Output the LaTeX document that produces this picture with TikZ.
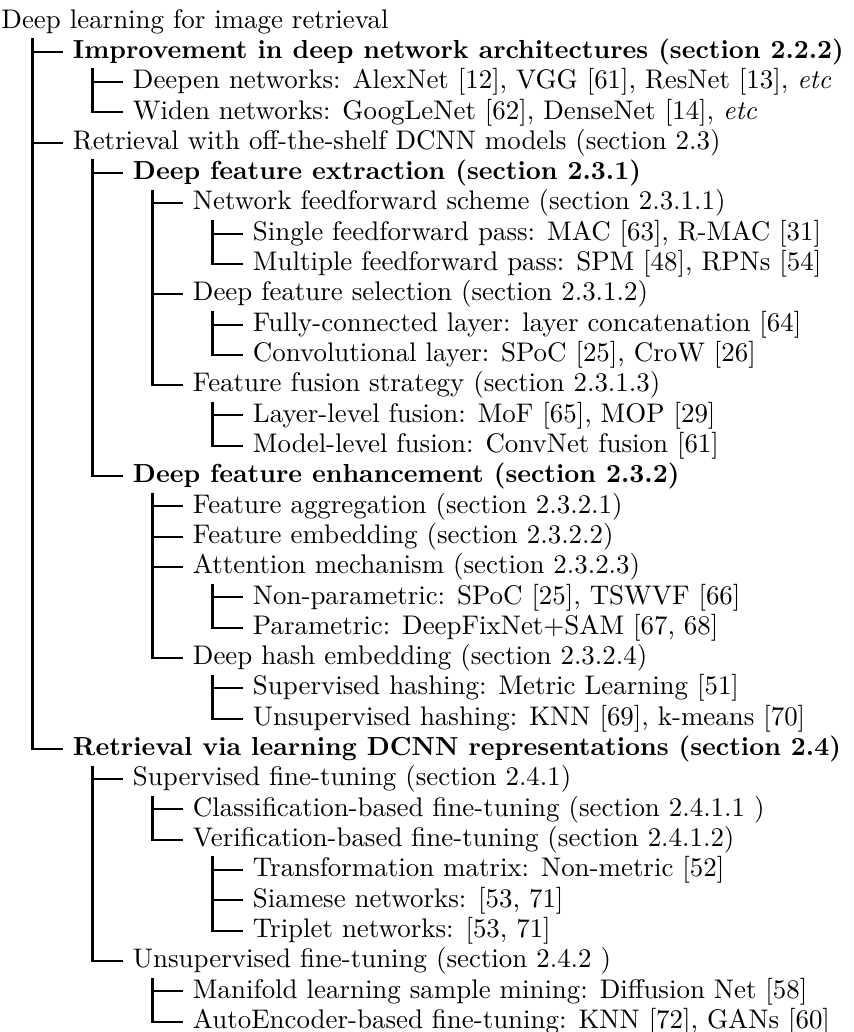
\documentclass[tikz,border=0pt]{standalone}
\usetikzlibrary{calc}

% folder-style edge: vertical rule below the parent, then a stub to the child
\newcommand\fedge[2]{\draw[treeline] ([xshift=-11.15pt]#2.west |- #1.south) |- (#2.west);}

\begin{document}
\begin{tikzpicture}[x=0.3717pt,y=-0.3717pt,
  item/.style={anchor=west,inner xsep=3.7pt,inner ysep=1pt,
    text height=7.5pt,text depth=2.5pt,font=\normalsize},
  bitem/.style={item,font=\fontsize{9.7pt}{12pt}\selectfont\bfseries},
  treeline/.style={line width=0.75pt,black}]
\useasboundingbox (0,0) rectangle (854,1032);

% root
\node[item] (r) at (-9,21.40) {Deep learning for image retrieval};

% level 1
\node[bitem] (a)  at (62.5,51.71)  {Improvement in deep network architectures (section 2.2.2)};
\node[item]  (b)  at (62.5,142.64) {Retrieval with off-the-shelf DCNN models (section 2.3)};
\node[bitem] (c)  at (62.5,748.84) {Retrieval via learning DCNN representations (section 2.4)};

% architectures
\node[item] (a1) at (122.5,82.02)  {Deepen networks: AlexNet [12], VGG [61], ResNet [13], \emph{etc}};
\node[item] (a2) at (122.5,112.33) {Widen networks: GoogLeNet [62], DenseNet [14], \emph{etc}};

% off-the-shelf models
\node[bitem] (b1) at (122.5,172.95) {Deep feature extraction (section 2.3.1)};
\node[item] (b11) at (182.5,203.26) {Network feedforward scheme (section 2.3.1.1)};
\node[item] (b111) at (242.5,233.57) {Single feedforward pass: MAC [63], R-MAC [31]};
\node[item] (b112) at (242.5,263.88) {Multiple feedforward pass: SPM [48], RPNs [54]};
\node[item] (b12) at (182.5,294.19) {Deep feature selection (section 2.3.1.2)};
\node[item] (b121) at (242.5,324.50) {Fully-connected layer: layer concatenation [64]};
\node[item] (b122) at (242.5,354.81) {Convolutional layer: SPoC [25], CroW [26]};
\node[item] (b13) at (182.5,385.12) {Feature fusion strategy (section 2.3.1.3)};
\node[item] (b131) at (242.5,415.43) {Layer-level fusion: MoF [65], MOP [29]};
\node[item] (b132) at (242.5,445.74) {Model-level fusion: ConvNet fusion [61]};

\node[bitem] (b2) at (122.5,476.05) {Deep feature enhancement (section 2.3.2)};
\node[item] (b21) at (182.5,506.36) {Feature aggregation (section 2.3.2.1)};
\node[item] (b22) at (182.5,536.67) {Feature embedding (section 2.3.2.2)};
\node[item] (b23) at (182.5,566.98) {Attention mechanism (section 2.3.2.3)};
\node[item] (b231) at (242.5,597.29) {Non-parametric: SPoC [25], TSWVF [66]};
\node[item] (b232) at (242.5,627.60) {Parametric: DeepFixNet+SAM [67, 68]};
\node[item] (b24) at (182.5,657.91) {Deep hash embedding (section 2.3.2.4)};
\node[item] (b241) at (242.5,688.22) {Supervised hashing: Metric Learning [51]};
\node[item] (b242) at (242.5,718.53) {Unsupervised hashing: KNN [69], k-means [70]};

% learned representations
\node[item] (c1) at (122.5,779.15) {Supervised fine-tuning (section 2.4.1)};
\node[item] (c11) at (182.5,809.46) {Classification-based fine-tuning (section 2.4.1.1 )};
\node[item] (c12) at (182.5,839.77) {Verification-based fine-tuning (section 2.4.1.2)};
\node[item] (c121) at (242.5,870.08) {Transformation matrix: Non-metric [52]};
\node[item] (c122) at (242.5,900.39) {Siamese networks: [53, 71]};
\node[item] (c123) at (242.5,930.70) {Triplet networks: [53, 71]};
\node[item] (c2) at (122.5,961.01) {Unsupervised fine-tuning (section 2.4.2 )};
\node[item] (c21) at (182.5,991.32) {Manifold learning sample mining: Diffusion Net [58]};
\node[item] (c22) at (182.5,1021.63) {AutoEncoder-based fine-tuning: KNN [72], GANs [60]};

% edges
\fedge{r}{a} \fedge{r}{b} \fedge{r}{c}
\fedge{a}{a1} \fedge{a}{a2}
\fedge{b}{b1} \fedge{b}{b2}
\fedge{b1}{b11} \fedge{b1}{b12} \fedge{b1}{b13}
\fedge{b11}{b111} \fedge{b11}{b112}
\fedge{b12}{b121} \fedge{b12}{b122}
\fedge{b13}{b131} \fedge{b13}{b132}
\fedge{b2}{b21} \fedge{b2}{b22} \fedge{b2}{b23} \fedge{b2}{b24}
\fedge{b23}{b231} \fedge{b23}{b232}
\fedge{b24}{b241} \fedge{b24}{b242}
\fedge{c}{c1} \fedge{c}{c2}
\fedge{c1}{c11} \fedge{c1}{c12}
\fedge{c12}{c121} \fedge{c12}{c122} \fedge{c12}{c123}
\fedge{c2}{c21} \fedge{c2}{c22}
\end{tikzpicture}
\end{document}
